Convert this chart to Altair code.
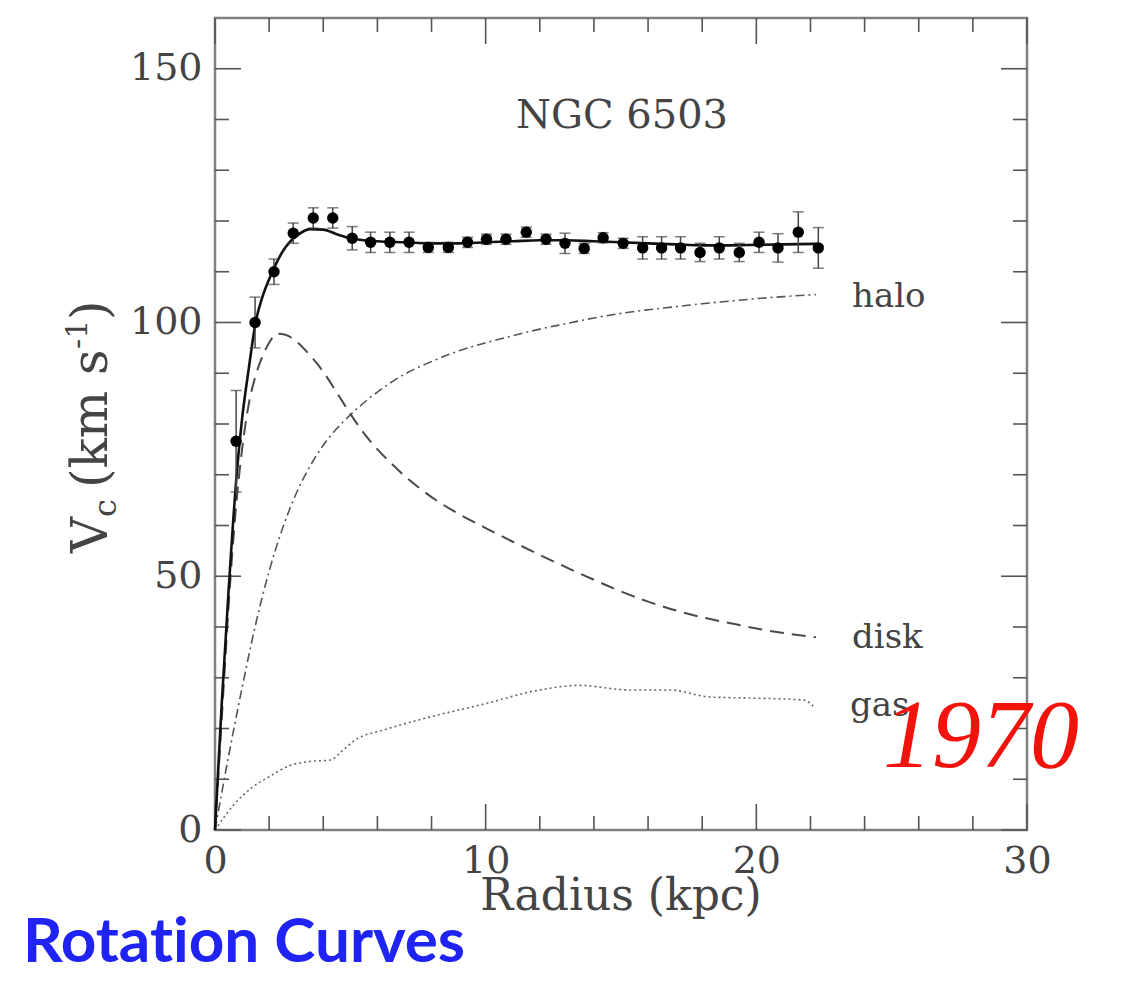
import altair as alt
import pandas as pd

# ---- observed rotation curve of NGC 6503 (radius kpc, velocity km/s, error) ----
obs_r = [0.78, 1.48, 2.18, 2.89, 3.63, 4.35, 5.07, 5.75, 6.46, 7.17, 7.88, 8.62,
         9.33, 10.03, 10.75, 11.5, 12.23, 12.93, 13.64, 14.34, 15.08, 15.8, 16.5,
         17.2, 17.92, 18.63, 19.37, 20.1, 20.8, 21.55, 22.29]
obs_v = [76.6, 100.0, 110.0, 117.6, 120.6, 120.6, 116.6, 115.8, 115.8, 115.8, 114.8, 114.8,
         115.8, 116.4, 116.4, 117.8, 116.4, 115.6, 114.6, 116.7, 115.6, 114.7, 114.7,
         114.7, 113.8, 114.7, 113.8, 115.8, 114.7, 117.8, 114.7]
obs_err = [10.0, 5.0, 2.5, 2.0, 2.0, 2.0, 2.3, 2.0, 2.0, 2.0, 1.0, 1.0,
           1.0, 1.0, 1.0, 1.0, 1.0, 2.0, 1.0, 1.0, 1.0, 2.2, 2.2,
           2.2, 1.8, 2.2, 1.8, 2.0, 2.8, 4.0, 4.0]

# ---- model components ----
total_r = [0, 0.25, 0.5, 0.8, 1.0, 1.25, 1.5, 1.75, 2.0, 2.25, 2.5, 2.75, 3.0, 3.5, 4.0,
           4.5, 5.0, 6, 7, 8, 9, 10, 11, 12, 13, 14, 15, 16, 17, 18, 19, 20, 21, 22.3]
total_v = [0, 25, 47, 70, 81, 91, 100, 105, 108.5, 111.5, 114, 115.8, 117, 118.4, 118.3,
           117.4, 116.6, 116, 115.8, 115.6, 115.6, 115.8, 116, 116.2, 116.2, 116, 115.8,
           115.6, 115.4, 115.2, 115.2, 115.3, 115.4, 115.5]

disk_r = [0, 0.25, 0.5, 0.75, 1.0, 1.25, 1.5, 1.75, 2.0, 2.3, 2.6, 3.0, 3.5, 4.0, 4.5,
          5.0, 5.5, 6.0, 6.5, 7.0, 7.5, 8, 9, 10, 11, 12, 13, 14, 15, 16, 17, 18,
          19, 20, 21, 22.2]
disk_v = [0, 22, 44, 62, 75, 84, 89.5, 93.3, 96, 97.8, 97.6, 96.3, 93.6, 90.3, 86.2,
          82, 78.2, 75, 72.3, 69.8, 67.6, 65.6, 62.3, 59.5, 56.8, 54.2, 51.7, 49.3,
          47, 45, 43.3, 41.9, 40.8, 39.7, 38.8, 38]

halo_r = [0, 0.5, 1.0, 1.5, 2.0, 2.5, 3.0, 3.5, 4.0, 4.5, 5.0, 6, 7, 8, 9, 10, 11, 12,
          13, 14, 15, 16, 17, 18, 19, 20, 21, 22.2]
halo_v = [0, 14.5, 28, 40.5, 51, 59.5, 66.3, 71.6, 75.8, 79.1, 81.8, 86.3, 89.8, 92.3,
          94.4, 96, 97.4, 98.7, 99.8, 100.9, 101.8, 102.5, 103.1, 103.7, 104.2, 104.7,
          105.1, 105.5]

gas_r = [0, 0.7, 1.4, 2.0, 2.76, 3.5, 4.27, 4.72, 5.17, 6.23, 7.74, 10.0, 12.0, 13.47,
         15.28, 16.79, 18.3, 19.8, 21.76, 22.1]
gas_v = [0, 5, 8.5, 10.5, 12.7, 13.5, 13.8, 15.7, 17.7, 19.7, 22, 24.9, 27.6, 28.5,
         27.6, 27.6, 26.2, 26.0, 25.6, 24.4]

# ---- axis ticks ----
x_major = [0, 10, 20, 30]
x_minor = [2, 4, 6, 8, 12, 14, 16, 18, 22, 24, 26, 28]
y_major = [0, 50, 100, 150]
y_minor = [10, 20, 30, 40, 60, 70, 80, 90, 110, 120, 130, 140]

W = H = 812
XS = alt.Scale(domain=[0, 30], nice=False, zero=False)
YS = alt.Scale(domain=[0, 160], nice=False, zero=False)
SERIF = "DejaVu Serif"
GREY = "#444444"
TICK = "#555555"

x_axis = alt.Axis(values=x_major, ticks=False, domain=False, grid=False, title=None,
                  labelFont=SERIF, labelFontSize=38, labelColor=GREY, labelPadding=12,
                  labelFlush=False, format="d", labelOverlap=False)
y_axis = alt.Axis(values=y_major, ticks=False, domain=False, grid=False, title=None,
                  labelFont=SERIF, labelFontSize=38, labelColor=GREY, labelPadding=13,
                  labelFlush=False, format="d", labelOverlap=False)


def XE(field):
    return alt.X(field, scale=XS, axis=x_axis)


def YE(field):
    return alt.Y(field, scale=YS, axis=y_axis)


def curve(r, v, width, color, dash=None):
    df = pd.DataFrame({"r": r, "v": v})
    kw = dict(strokeWidth=width, color=color, interpolate="monotone")
    if dash:
        kw["strokeDash"] = dash
    return alt.Chart(df).mark_line(**kw).encode(x=XE("r:Q"), y=YE("v:Q"))


def xticks(vals, length, top):
    df = pd.DataFrame({"t": vals})
    y0 = 0 if top else H
    y1 = length if top else H - length
    return alt.Chart(df).mark_rule(color=TICK, strokeWidth=1.6).encode(
        x=XE("t:Q"), y=alt.value(y0), y2=alt.value(y1))


def yticks(vals, length, right):
    df = pd.DataFrame({"t": vals})
    x0 = W if right else 0
    x1 = W - length if right else length
    return alt.Chart(df).mark_rule(color=TICK, strokeWidth=1.6).encode(
        y=YE("t:Q"), x=alt.value(x0), x2=alt.value(x1))


def label(txt, x, y, size, align="left", font=SERIF, color=GREY, style="normal",
          weight="normal", angle=0, baseline="alphabetic"):
    kw = dict(align=align, baseline=baseline, font=font, fontSize=size, color=color,
              fontStyle=style, fontWeight=weight)
    if angle:
        kw["angle"] = angle
    return alt.Chart(pd.DataFrame({"t": [txt]})).mark_text(**kw).encode(
        x=alt.value(x), y=alt.value(y), text="t:N")


obs = pd.DataFrame({"r": obs_r, "v": obs_v, "err": obs_err})
obs["lo"] = obs["v"] - obs["err"]
obs["hi"] = obs["v"] + obs["err"]

err_rule = alt.Chart(obs).mark_rule(color="#444444", strokeWidth=1.5).encode(
    x=XE("r:Q"), y=YE("lo:Q"), y2="hi:Q")
cap_hi = alt.Chart(obs).mark_tick(color="#444444", orient="horizontal", size=11,
                                  thickness=1.5).encode(x=XE("r:Q"), y=YE("hi:Q"))
cap_lo = alt.Chart(obs).mark_tick(color="#444444", orient="horizontal", size=11,
                                  thickness=1.5).encode(x=XE("r:Q"), y=YE("lo:Q"))
points = alt.Chart(obs).mark_circle(size=130, color="black", opacity=1).encode(
    x=XE("r:Q"), y=YE("v:Q"))

layers = [
    xticks(x_major, 26, False),
    xticks(x_minor, 14, False),
    xticks(x_major, 26, True),
    xticks(x_minor, 14, True),
    yticks(y_major, 26, False),
    yticks(y_minor, 14, False),
    yticks(y_major, 26, True),
    yticks(y_minor, 14, True),
    curve(gas_r, gas_v, 1.6, "#666666", [2, 3]),
    curve(halo_r, halo_v, 1.6, "#555555", [9, 4, 2, 4]),
    curve(disk_r, disk_v, 2.0, "#4a4a4a", [14, 8]),
    curve(total_r, total_v, 2.6, "#111111"),
    err_rule, cap_hi, cap_lo, points,
    label("NGC 6503", 407, 110, 40, align="center"),
    label("halo", 637, 289, 34),
    label("disk", 637, 630, 34),
    label("gas", 635, 698, 34),
    label("1970", 668, 749, 98, font="Liberation Serif", color="#f2140c", style="italic"),
    label("Radius (kpc)", 406, 892, 44, align="center"),
    # y-axis title: V_c (km s^-1), rotated
    label("V", -108, 535, 50, angle=270),
    label("c", -99, 499, 32, angle=270),
    label("(km s", -108, 470, 50, angle=270),
    label("-1", -128, 331, 30, angle=270),
    label(")", -108, 302, 50, angle=270),
    label("Rotat\u200cion Curves", -192, 944, 62, font="Lato", color="#1f24f5",
          weight="bold"),
]

chart = alt.layer(*layers).properties(
    width=W, height=H,
    autosize=alt.AutoSizeParams(type="none"),
    padding={"left": 207, "top": 10, "right": 86, "bottom": 152},
    background="white",
).configure_view(stroke="#808080", strokeWidth=2.5)

chart.save("out.html", embed_options={"renderer": "svg", "actions": False})
